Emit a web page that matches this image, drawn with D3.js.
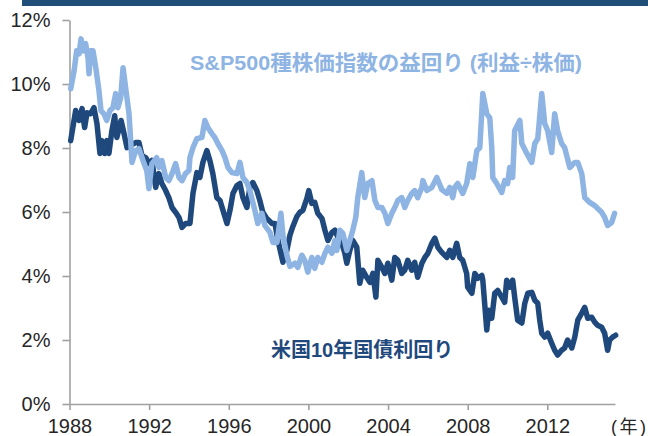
<!DOCTYPE html>
<html>
<head>
<meta charset="utf-8">
<script src="https://cdn.jsdelivr.net/npm/d3@7"></script>
<style>
  body { margin: 0; background: #fff; }
  #chart { width: 648px; height: 436px; overflow: hidden; }
</style>
</head>
<body>
<div id="chart"></div>
<script>
// S&P500 earnings yield (E/P), [year, %]
const epYield = [
  [1988.06, 9.85], [1988.23, 10.41], [1988.36, 11.04], [1988.48, 10.94], [1988.58, 11.41],
  [1988.68, 11.04], [1988.81, 11.26], [1988.93, 10.82], [1988.98, 10.32], [1989.06, 11.04],
  [1989.18, 11.04], [1989.32, 10.51], [1989.48, 9.79], [1989.58, 9.17], [1989.73, 9.07],
  [1989.87, 8.86], [1990.03, 9.17], [1990.18, 9.26], [1990.32, 9.70], [1990.43, 9.26],
  [1990.57, 9.57], [1990.69, 10.51], [1990.82, 9.88], [1990.99, 9.07], [1991.14, 7.55],
  [1991.32, 7.92], [1991.49, 7.98], [1991.69, 7.61], [1991.88, 7.30], [1991.99, 6.73],
  [1992.14, 7.51], [1992.38, 7.70], [1992.49, 7.39], [1992.64, 7.61], [1992.83, 7.08],
  [1992.99, 6.98], [1993.15, 7.20], [1993.33, 7.51], [1993.50, 7.08], [1993.65, 6.98],
  [1993.83, 7.20], [1994.00, 7.30], [1994.05, 7.70], [1994.20, 8.01], [1994.40, 8.29],
  [1994.65, 8.33], [1994.80, 8.86], [1994.95, 8.64], [1995.15, 8.45], [1995.30, 8.33],
  [1995.45, 8.14], [1995.66, 7.92], [1995.81, 7.70], [1995.96, 7.39], [1996.16, 7.23],
  [1996.41, 7.20], [1996.56, 7.55], [1996.71, 7.08], [1996.91, 6.92], [1997.06, 6.67],
  [1997.31, 6.05], [1997.46, 5.64], [1997.66, 5.96], [1997.81, 5.58], [1998.07, 5.36],
  [1998.22, 5.05], [1998.42, 5.05], [1998.62, 5.96], [1998.72, 5.27], [1998.92, 4.65],
  [1999.07, 4.30], [1999.32, 4.40], [1999.47, 4.27], [1999.67, 4.65], [1999.82, 4.49],
  [1999.97, 4.12], [2000.17, 4.58], [2000.32, 4.24], [2000.47, 4.58], [2000.68, 4.43],
  [2000.83, 4.71], [2000.98, 4.90], [2001.18, 4.71], [2001.33, 5.11], [2001.43, 4.80],
  [2001.58, 5.43], [2001.73, 5.33], [2001.93, 4.80], [2002.08, 5.11], [2002.23, 5.43],
  [2002.38, 5.83], [2002.48, 6.45], [2002.68, 7.23], [2002.83, 6.45], [2002.98, 6.89],
  [2003.19, 6.98], [2003.34, 6.36], [2003.49, 6.14], [2003.69, 6.14], [2003.84, 5.96],
  [2003.99, 5.64], [2004.19, 5.96], [2004.34, 6.14], [2004.49, 6.36], [2004.69, 6.45],
  [2004.84, 6.14], [2004.99, 6.36], [2005.19, 6.58], [2005.34, 6.67], [2005.49, 6.45],
  [2005.70, 6.77], [2005.75, 6.98], [2005.95, 6.67], [2006.20, 6.77], [2006.45, 7.08],
  [2006.70, 6.70], [2006.95, 6.58], [2007.10, 6.77], [2007.25, 6.45], [2007.35, 6.77],
  [2007.50, 6.89], [2007.75, 6.58], [2007.95, 6.89], [2008.11, 7.51], [2008.26, 7.08],
  [2008.46, 7.92], [2008.61, 8.01], [2008.76, 9.70], [2008.96, 9.07], [2009.11, 8.94],
  [2009.21, 8.01], [2009.26, 7.08], [2009.46, 6.89], [2009.71, 6.61], [2009.86, 6.98],
  [2010.01, 6.89], [2010.11, 7.39], [2010.26, 7.08], [2010.36, 8.54], [2010.62, 8.86],
  [2010.72, 8.14], [2010.97, 7.83], [2011.22, 7.55], [2011.37, 8.14], [2011.52, 8.29],
  [2011.72, 9.70], [2011.87, 8.76], [2012.02, 8.54], [2012.22, 7.86], [2012.37, 9.07],
  [2012.52, 8.54], [2012.72, 8.14], [2012.87, 8.01], [2013.13, 7.39], [2013.38, 7.55],
  [2013.53, 7.55], [2013.73, 7.20], [2013.88, 6.45], [2014.13, 6.30], [2014.38, 6.20],
  [2014.53, 6.11], [2014.73, 5.99], [2014.88, 5.83], [2015.03, 5.58], [2015.23, 5.67],
  [2015.38, 5.96]
];

// US 10-year Treasury yield, [year, %]
const tyYield = [
  [1988.06, 8.23], [1988.31, 9.17], [1988.48, 8.86], [1988.63, 9.23], [1988.76, 8.64],
  [1988.88, 9.10], [1989.06, 9.07], [1989.23, 9.26], [1989.38, 8.76], [1989.53, 7.83],
  [1989.63, 8.23], [1989.77, 7.83], [1989.88, 8.23], [1989.98, 7.83], [1990.13, 8.54],
  [1990.27, 9.01], [1990.38, 8.33], [1990.59, 8.86], [1990.74, 8.45], [1990.89, 8.01],
  [1991.07, 8.08], [1991.32, 8.17], [1991.49, 8.17], [1991.64, 7.76], [1991.83, 7.70],
  [1991.99, 7.51], [1992.14, 7.61], [1992.33, 6.77], [1992.49, 7.20], [1992.64, 6.89],
  [1992.83, 6.67], [1992.99, 6.45], [1993.15, 6.14], [1993.33, 5.99], [1993.50, 5.83],
  [1993.65, 5.52], [1993.83, 5.64], [1994.05, 5.64], [1994.20, 6.58], [1994.40, 7.23],
  [1994.55, 7.08], [1994.70, 7.55], [1994.90, 7.92], [1995.05, 7.61], [1995.20, 7.20],
  [1995.40, 6.45], [1995.56, 6.36], [1995.71, 6.05], [1995.91, 5.64], [1996.06, 6.05],
  [1996.21, 6.58], [1996.41, 6.83], [1996.56, 6.89], [1996.71, 6.45], [1996.91, 6.14],
  [1997.06, 6.77], [1997.21, 6.92], [1997.41, 6.67], [1997.56, 6.36], [1997.71, 5.99],
  [1997.91, 5.80], [1998.17, 5.64], [1998.32, 5.64], [1998.47, 5.11], [1998.72, 4.43],
  [1998.92, 4.80], [1999.07, 5.27], [1999.22, 5.55], [1999.42, 5.86], [1999.57, 5.99],
  [1999.72, 6.05], [1999.92, 6.42], [2000.02, 6.67], [2000.17, 6.27], [2000.32, 6.30],
  [2000.47, 5.96], [2000.68, 5.80], [2000.83, 5.43], [2000.98, 5.11], [2001.18, 5.36],
  [2001.33, 5.43], [2001.48, 5.21], [2001.68, 5.02], [2001.83, 4.71], [2001.93, 4.40],
  [2002.08, 4.80], [2002.23, 5.11], [2002.43, 4.90], [2002.58, 3.77], [2002.73, 4.18],
  [2002.93, 3.96], [2003.09, 3.80], [2003.24, 4.08], [2003.39, 3.34], [2003.49, 4.49],
  [2003.69, 4.27], [2003.84, 4.08], [2003.99, 4.40], [2004.19, 3.87], [2004.34, 4.58],
  [2004.49, 4.49], [2004.69, 4.08], [2004.84, 4.18], [2004.99, 4.49], [2005.19, 4.18],
  [2005.34, 4.43], [2005.49, 3.96], [2005.70, 4.40], [2005.85, 4.58], [2006.00, 4.71],
  [2006.20, 5.02], [2006.35, 5.18], [2006.50, 4.90], [2006.70, 4.74], [2006.95, 4.58],
  [2007.10, 4.80], [2007.25, 4.58], [2007.45, 5.02], [2007.60, 4.58], [2007.75, 4.49],
  [2007.95, 4.08], [2008.00, 3.65], [2008.21, 3.46], [2008.36, 4.08], [2008.51, 3.93],
  [2008.71, 4.02], [2008.76, 3.87], [2008.96, 2.31], [2009.06, 2.93], [2009.21, 2.68],
  [2009.36, 3.46], [2009.51, 3.55], [2009.71, 3.34], [2009.86, 3.18], [2009.96, 3.87],
  [2010.11, 3.65], [2010.26, 3.87], [2010.36, 3.34], [2010.51, 2.62], [2010.72, 2.53],
  [2010.87, 3.15], [2011.02, 3.46], [2011.22, 3.49], [2011.37, 3.24], [2011.52, 3.15],
  [2011.62, 2.62], [2011.72, 2.21], [2011.87, 2.09], [2012.02, 2.21], [2012.22, 1.90],
  [2012.37, 1.68], [2012.52, 1.53], [2012.72, 1.68], [2012.87, 1.75], [2013.02, 2.00],
  [2013.23, 1.75], [2013.38, 2.09], [2013.53, 2.62], [2013.73, 2.84], [2013.88, 3.02],
  [2014.03, 2.68], [2014.23, 2.71], [2014.38, 2.56], [2014.53, 2.46], [2014.73, 2.40],
  [2014.88, 2.21], [2015.03, 1.68], [2015.13, 2.00], [2015.28, 2.09], [2015.43, 2.15]
];

const yTicks = [0, 2, 4, 6, 8, 10, 12];
const xTicks = [1988, 1992, 1996, 2000, 2004, 2008, 2012];
const epLabel = "S&P500種株価指数の益回り (利益÷株価)";
const tyLabel = "米国10年国債利回り";
const yearLabel = "(年)";

const width = 648;
const height = 436;
const margin = { top: 20, right: 33, bottom: 32, left: 69.5 };
const fontLatin = "'Liberation Sans', Arial, 'Noto Sans CJK JP', sans-serif";

const svg = d3.select("#chart").append("svg")
    .attr("width", width)
    .attr("height", height);

// banner strip at the very top
svg.append("rect")
    .attr("x", 22).attr("y", 0)
    .attr("width", width - 22).attr("height", 6)
    .attr("fill", "#1F4E79");

const x = d3.scaleLinear().domain([1988, 2015.4]).range([margin.left, width - margin.right]);
const y = d3.scaleLinear().domain([0, 12]).range([height - margin.bottom, margin.top]);

const yAxis = svg.append("g")
    .attr("transform", "translate(" + margin.left + ",0)")
    .call(d3.axisLeft(y).tickValues(yTicks).tickFormat(d => d + "%").tickSize(7).tickSizeOuter(0).tickPadding(12));

const xAxis = svg.append("g")
    .attr("transform", "translate(0," + (height - margin.bottom) + ")")
    .call(d3.axisBottom(x).tickValues(xTicks).tickFormat(d3.format("d")).tickSize(6).tickSizeOuter(0).tickPadding(9));

[yAxis, xAxis].forEach(g => {
    g.select(".domain").attr("stroke", "#a0a0a0").attr("stroke-width", 1.6);
    g.selectAll(".tick line").attr("stroke", "#a0a0a0").attr("stroke-width", 1.6);
    g.selectAll(".tick text")
        .attr("fill", "#262626")
        .style("font-family", fontLatin)
        .style("font-size", "20px");
});

const line = d3.line().x(d => x(d[0])).y(d => y(d[1]));

svg.append("path")
    .datum(tyYield)
    .attr("d", line)
    .attr("fill", "none")
    .attr("stroke", "#1F497D")
    .attr("stroke-width", 5.5)
    .attr("stroke-linejoin", "round")
    .attr("stroke-linecap", "round");

svg.append("path")
    .datum(epYield)
    .attr("d", line)
    .attr("fill", "none")
    .attr("stroke", "#8EB4E3")
    .attr("stroke-width", 5.5)
    .attr("stroke-linejoin", "round")
    .attr("stroke-linecap", "round");

svg.append("text")
    .attr("x", 190).attr("y", 70)
    .attr("fill", "#8EB4E3")
    .attr("textLength", 392)
    .attr("lengthAdjust", "spacingAndGlyphs")
    .style("font-family", fontLatin)
    .style("font-weight", "bold")
    .style("font-size", "21px")
    .text(epLabel);

svg.append("text")
    .attr("x", 271).attr("y", 357)
    .attr("fill", "#1F497D")
    .style("font-family", fontLatin)
    .style("font-weight", "bold")
    .style("font-size", "20px")
    .text(tyLabel);

svg.append("text")
    .attr("x", 611).attr("y", 433)
    .attr("fill", "#262626")
    .attr("textLength", 35)
    .attr("lengthAdjust", "spacing")
    .style("font-family", fontLatin)
    .style("font-size", "18px")
    .text(yearLabel);
</script>
</body>
</html>
